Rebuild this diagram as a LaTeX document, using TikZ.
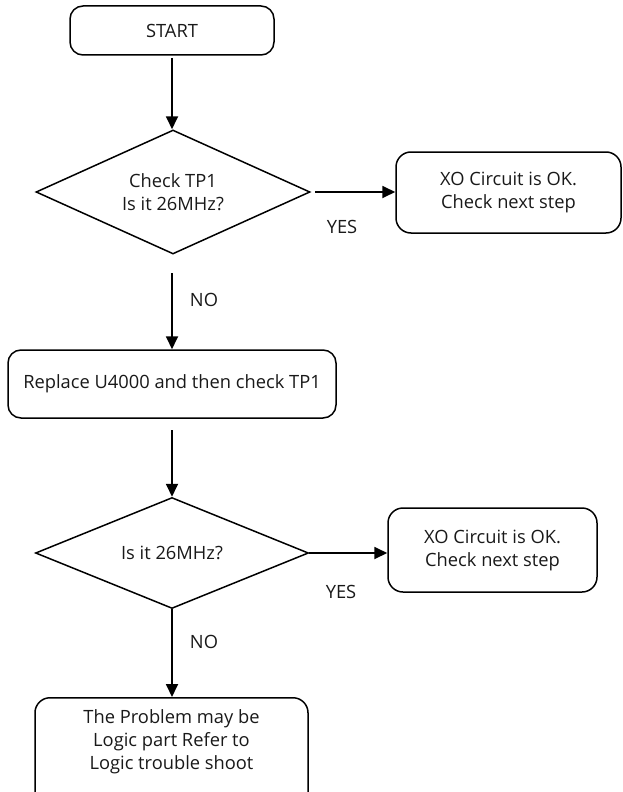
\documentclass[tikz,border=0pt]{standalone}
\usepackage{fontspec}
\setmainfont{Open Sans}
\usetikzlibrary{shapes.geometric,arrows.meta}
\begin{document}
\begin{tikzpicture}[x=1pt,y=-1pt,
  every node/.style={font=\fontsize{18.3}{23}\selectfont, text=black!90},
  term/.style={draw, line width=1.5pt, rounded corners=13pt, align=center, inner sep=0pt},
  decision/.style={draw, line width=1.5pt, shape=diamond, inner sep=0pt, align=center},
  arr/.style={line width=1.8pt, -{Triangle[length=13pt,width=12pt]}},
  lbl/.style={inner sep=0pt}]
\useasboundingbox (0,0) rectangle (623,792);
\clip (0,0) rectangle (623,792);
\node[term, minimum width=204pt, minimum height=49pt] (start) at (172,30.5) {START};
\node[decision, minimum width=274pt, minimum height=124pt, aspect=2.2] (d1) at (173,192) {Check TP1\\Is it 26MHz?};
\node[term, rounded corners=15pt, minimum width=225pt, minimum height=81pt] (ok1) at (508.5,192.5) {XO Circuit is OK.\\Check next step};
\node[term, minimum width=328pt, minimum height=68pt] (rep) at (172,384) {Replace U4000 and then check TP1};
\node[decision, minimum width=273pt, minimum height=111pt, aspect=2.46] (d2) at (172,553) {Is it 26MHz?};
\node[term, rounded corners=15pt, minimum width=209pt, minimum height=84pt] (ok2) at (492.5,550) {XO Circuit is OK.\\Check next step};
\node[term, rounded corners=15pt, minimum width=273pt, minimum height=120pt, anchor=north] (fin) at (171.5,697) {};
\node[align=center, anchor=north, inner sep=0pt] (fintext) at (171.5,709) {The Problem may be\\Logic part Refer to\\Logic trouble shoot};
\coordinate (a1s) at (172,58);
\coordinate (a2s) at (315,192);
\coordinate (a3s) at (172,273);
\coordinate (a4s) at (172,430);
\draw[arr] (a1s) -- (a1s |- d1.north);
\draw[arr] (a2s) -- (a2s -| ok1.west);
\draw[arr] (a3s) -- (a3s |- rep.north);
\draw[arr] (a4s) -- (a4s |- d2.north);
\draw[arr] (d2.east) -- (d2.east -| ok2.west);
\draw[arr] (d2.south) -- (d2.south |- fin.north);
\node[lbl] (yes1) at (342,227) {YES};
\node[lbl] (no1) at (204,300) {NO};
\node[lbl] (yes2) at (341,592) {YES};
\node[lbl] (no2) at (204,642) {NO};
\end{tikzpicture}
\end{document}
